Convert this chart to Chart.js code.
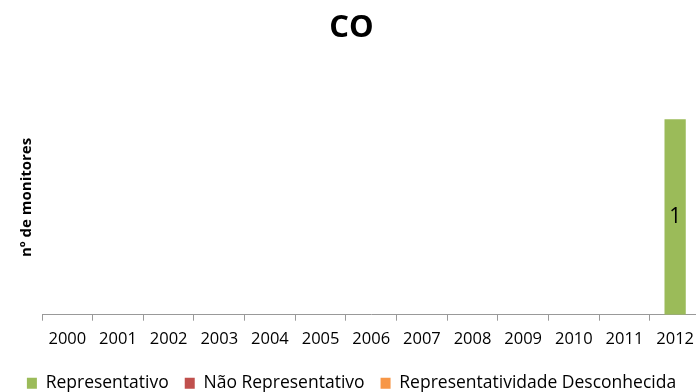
<!DOCTYPE html>
<html>
<head>
<meta charset="utf-8">
<script src="https://cdn.jsdelivr.net/npm/chart.js@4"></script>
<style>
    html, body { margin: 0; padding: 0; background: #fff; overflow: hidden; }
    #wrap { width: 703px; height: 392px; }
</style>
</head>
<body>
<div id="wrap"><canvas id="coChart" width="703" height="392"></canvas></div>
<script>
// Data
const years = ['2000', '2001', '2002', '2003', '2004', '2005', '2006', '2007', '2008', '2009', '2010', '2011', '2012'];
const representativo = [0, 0, 0, 0, 0, 0, 0, 0, 0, 0, 0, 0, 1];
const naoRepresentativo = [0, 0, 0, 0, 0, 0, 0, 0, 0, 0, 0, 0, 0];
const desconhecida = [0, 0, 0, 0, 0, 0, 0, 0, 0, 0, 0, 0, 0];
const yMax = 1.2;

const FONT = "'Open Sans', sans-serif";

// Draw the value inside each non-empty bar
const barLabels = {
    id: 'barLabels',
    afterDatasetsDraw(chart) {
        const ctx = chart.ctx;
        ctx.save();
        ctx.font = '21px ' + FONT;
        ctx.fillStyle = '#000';
        ctx.textAlign = 'center';
        ctx.textBaseline = 'middle';
        chart.data.datasets.forEach((ds, i) => {
            const meta = chart.getDatasetMeta(i);
            meta.data.forEach((bar, j) => {
                const v = ds.data[j];
                if (!v) return;
                ctx.fillText(String(v), bar.x, (bar.y + bar.base) / 2);
            });
        });
        ctx.restore();
    }
};

const ctx = document.getElementById('coChart').getContext('2d');
new Chart(ctx, {
    type: 'bar',
    data: {
        labels: years,
        datasets: [
            { label: 'Representativo', data: representativo, backgroundColor: '#9BBB59' },
            { label: 'Não Representativo', data: naoRepresentativo, backgroundColor: '#C0504D' },
            { label: 'Representatividade Desconhecida', data: desconhecida, backgroundColor: '#F79646' }
        ]
    },
    options: {
        responsive: false,
        animation: false,
        events: [],
        layout: { padding: { left: 0, right: 0, top: 0, bottom: -10 } },
        datasets: {
            bar: { barPercentage: 0.42, categoryPercentage: 1, borderWidth: 0 }
        },
        plugins: {
            title: {
                display: true,
                text: 'CO',
                color: '#000',
                font: { family: FONT, size: 31, weight: 'bold' },
                padding: { top: 10, bottom: 33 }
            },
            legend: {
                position: 'bottom',
                labels: {
                    color: '#000',
                    font: { family: FONT, size: 17.5 },
                    boxWidth: 10,
                    boxHeight: 11,
                    padding: 16
                }
            },
            tooltip: { enabled: false }
        },
        scales: {
            x: {
                stacked: true,
                grid: {
                    display: true,
                    drawOnChartArea: false,
                    drawTicks: true,
                    tickLength: 6,
                    color: '#999'
                },
                border: { display: true, color: '#999', width: 1 },
                ticks: {
                    color: '#000',
                    font: { family: FONT, size: 16.5 },
                    padding: 9,
                    maxRotation: 0,
                    autoSkip: false
                }
            },
            y: {
                stacked: true,
                min: 0,
                max: yMax,
                grid: { display: false },
                border: { display: false },
                ticks: { display: false },
                title: {
                    display: true,
                    text: 'nº de monitores',
                    color: '#000',
                    font: { family: FONT, size: 15, weight: 'bold' },
                    padding: { top: 18, bottom: 0 }
                },
                afterFit(scale) {
                    scale.width = 42;
                }
            }
        }
    },
    plugins: [barLabels]
});
</script>
</body>
</html>
